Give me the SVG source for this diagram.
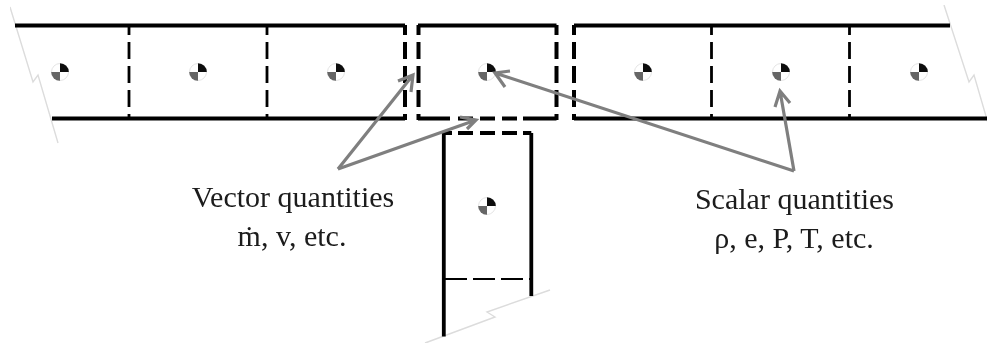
<svg xmlns="http://www.w3.org/2000/svg" width="987" height="348" viewBox="0 0 987 348">
<style>
.s{fill:none;stroke:#000;stroke-width:3.8}
.d{fill:none;stroke:#000;stroke-width:4;stroke-dasharray:17 7;stroke-dashoffset:7}
.i{fill:none;stroke:#000;stroke-width:2.8;stroke-dasharray:17 7;stroke-dashoffset:7}
.t{fill:none;stroke:#000;stroke-width:2.2;stroke-dasharray:22 6}
.b{fill:none;stroke:#dcdcdc;stroke-width:1.4}
.a{fill:none;stroke:#7f7f7f;stroke-width:3.2}
text{font-family:"Liberation Serif","Times New Roman",serif;font-size:30px;fill:#1a1a1a;text-anchor:middle}
</style>
<defs>
<filter id="soft" x="0" y="0" width="1" height="1"><feGaussianBlur stdDeviation="0.45"/></filter>
<g id="cg">
<circle r="8.500" fill="#fff" stroke="#ddd" stroke-width="0.8"/>
<path d="M0 0V-8.800A8.800 8.800 0 0 1 8.800 0Z" fill="#111"/>
<path d="M0 0V8.800A8.800 8.800 0 0 1 -8.800 0Z" fill="#666"/>
</g>
</defs>
<g filter="url(#soft)">
<g id="breaks">
<path class="b" d="M10 7L33 82L38 75L58 143"/>
<path class="b" d="M944 5L969 82L974 75L990 130"/>
<path class="b" d="M425 343L495 317L487 312L550 290"/>
</g>
<g id="pipe-left">
<path class="s" d="M15 25.500H405M52 118.500H405"/>
<path class="i" d="M129 25V118M267 25V118"/>
<path class="d" d="M405 25V120"/>
<use href="#cg" x="60" y="72"/><use href="#cg" x="198" y="72"/><use href="#cg" x="336" y="72"/>
</g>
<g id="junction">
<path class="s" d="M418 25.500H556.500M418 118.500H450M458 118.500H473M480 118.500H495M502 118.500H517M523 118.500H556.500"/>
<path class="d" d="M418.500 25V120M556.500 25V120"/>
<use href="#cg" x="487" y="72"/>
</g>
<g id="pipe-right">
<path class="s" d="M574 25.500H950M574 118.500H987"/>
<path class="d" d="M574 25V120"/>
<path class="i" d="M711.500 25V118M849.500 25V118"/>
<use href="#cg" x="643" y="72"/><use href="#cg" x="781" y="72"/><use href="#cg" x="919" y="72"/>
</g>
<g id="branch">
<path class="s" d="M443.800 133V336.500M531.300 133V296"/>
<path class="s" d="M443.800 133H452M458 133H473M480 133H495M502 133H517M523 133H531.300"/>
<path class="t" d="M445 279H531"/>
<use href="#cg" x="487" y="206"/>
</g>
<g id="connectors">
<path class="a" d="M338 169L413 75M398 81L413 75L411 92"/>
<path class="a" d="M338 169L476 120M460 117L476 120L467 129"/>
<path class="a" d="M794 171L495 73M510 71L495 73L505 87"/>
<path class="a" d="M794 171L780 91M775 107L780 91L790 103"/>
</g>
<g id="labels">
<text x="293" y="207">Vector quantities</text>
<text x="292" y="246">ṁ, v, etc.</text>
<text x="794.500" y="209">Scalar quantities</text>
<text x="794" y="248">ρ, e, P, T, etc.</text>
</g>
</g>
</svg>
